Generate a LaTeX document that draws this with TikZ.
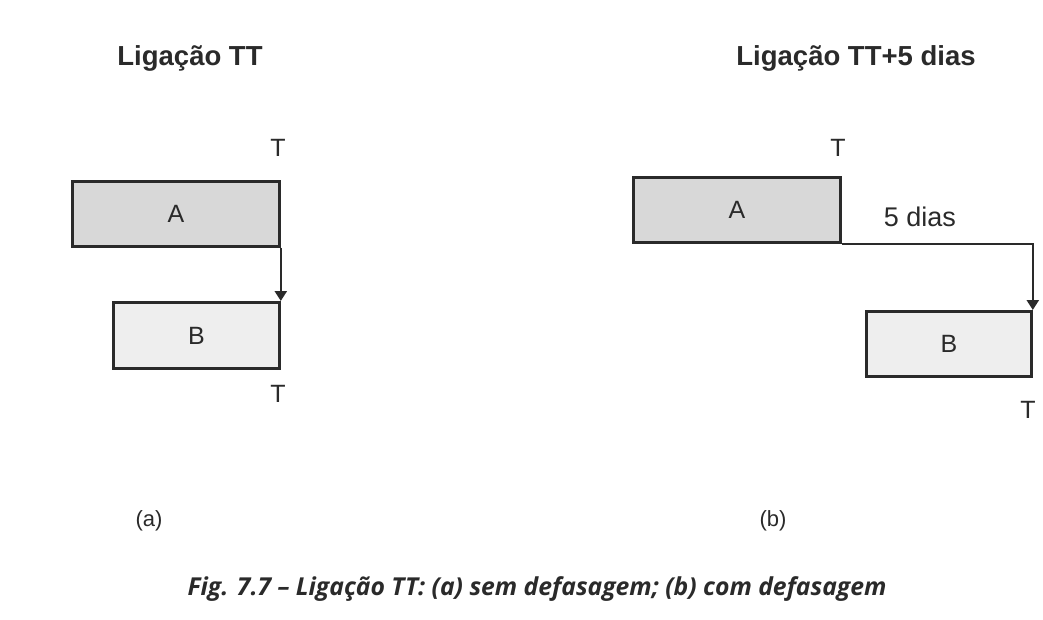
\documentclass[tikz,border=0pt]{standalone}
\usepackage{fontspec}
\setmainfont{Liberation Sans}
\newfontfamily\capfont{Open Sans}
\usetikzlibrary{arrows.meta}
\definecolor{lineC}{HTML}{2A2A2A}
\definecolor{fillA}{HTML}{D8D8D8}
\definecolor{fillB}{HTML}{EEEEEE}
\tikzset{
  boxA/.style={draw=lineC, line width=2.8pt, fill=fillA, inner sep=0pt, anchor=north west},
  boxB/.style={draw=lineC, line width=2.8pt, fill=fillB, inner sep=0pt, anchor=north west},
  lbl/.style={font=\fontsize{25}{28}\selectfont, text=lineC, inner sep=0pt},
  ttl/.style={font=\fontsize{27.5}{30}\selectfont\bfseries, text=lineC, inner sep=0pt},
  link/.style={draw=lineC, line width=2.4pt, -{Triangle[width=12pt,length=10pt]}}
}
\begin{document}
\begin{tikzpicture}[x=1pt,y=-1pt]
\useasboundingbox[fill=white] (0,0) rectangle (1043,620);
% titles
\node[ttl] (t1) at (190,58) {Ligação TT};
\node[ttl] (t2) at (856,58) {Ligação TT+5 dias};
% (a)
\node[boxA, minimum width=207pt, minimum height=65pt] (a1) at (71,180) {};
\node[lbl] at (a1.center) {A};
\node[boxB, minimum width=166pt, minimum height=66pt] (b1) at (112,301) {};
\node[lbl] at (b1.center) {B};
\node[lbl] (ta1) at (278,148) {T};
\node[lbl] (tb1) at (278,394) {T};
\draw[link] (a1.south east) -- (b1.north east);
% (b)
\node[boxA, minimum width=207pt, minimum height=65pt] (a2) at (632,176) {};
\node[lbl] at (a2.center) {A};
\node[boxB, minimum width=165pt, minimum height=65pt] (b2) at (865,310) {};
\node[lbl] at (b2.center) {B};
\node[lbl] (ta2) at (838,148) {T};
\node[lbl] (tb2) at (1028,410) {T};
\node[lbl, font=\fontsize{27}{30}\selectfont] (dias) at (920,217) {5 dias};
\draw[link] (a2.south east) -| (b2.north east);
% sublabels
\node[lbl, font=\fontsize{22}{26}\selectfont] (la) at (149,521) {(a)};
\node[lbl, font=\fontsize{22}{26}\selectfont] (lb) at (773,521) {(b)};
% caption
\node[inner sep=0pt, text=lineC] (cap) at (537,589) {\capfont\bfseries\itshape\fontsize{24.7}{28}\selectfont Fig. 7.7 – Ligação TT: (a) sem defasagem; (b) com defasagem};
\end{tikzpicture}
\end{document}
